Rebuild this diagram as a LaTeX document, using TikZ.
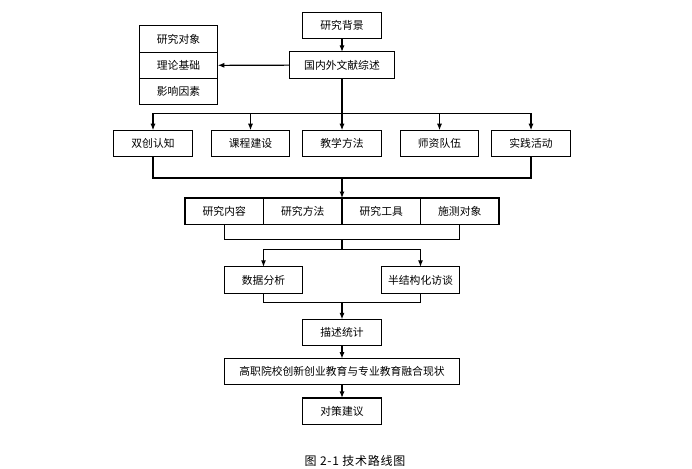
\documentclass[tikz,border=0pt]{standalone}
\usepackage{fontspec}
\setmainfont{Noto Sans CJK SC}
\usetikzlibrary{positioning, arrows, arrows.meta}
\tikzset{>={Latex[length=6.5pt, width=5pt]}}
\tikzset{
    box/.style={draw, line width=1.1pt, minimum width=78.5pt, minimum height=26.3pt, inner sep=0pt, outer sep=0pt, font=\fontsize{10.8}{12}\selectfont},
    link/.style={line width=1.1pt}
}

\begin{document}
\begin{tikzpicture}[x=1pt, y=1pt]
    \useasboundingbox (0,0) rectangle (692,468);

    \node[box] (background) at (342,442.2) {研究背景};
    \node[box, minimum width=104.5pt, below = 13pt of background] (review) {国内外文献综述};
    \node[box] (basis) at (178.5,402.6) {理论基础};
    \node[box, above = 0pt of basis] (subject) {研究对象};
    \node[box, below = 0pt of basis] (factor) {影响因素};

    \node[box, below = 52pt of review] (teaching) {教学方法};
    \node[box, left = 13pt of teaching] (course) {课程建设};
    \node[box, left = 19pt of course] (cognition) {双创认知};
    \node[box, right = 19pt of teaching] (staff) {师资队伍};
    \node[box, right = 13pt of staff] (practice) {实践活动};

    \node[box, below left = 41.5pt and 0pt of teaching.south] (method) {研究方法};
    \node[box, below right = 41.5pt and 0pt of teaching.south] (tool) {研究工具};
    \node[box, left = 0pt of method] (content) {研究内容};
    \node[box, right = 0pt of tool] (object) {施测对象};

    \node[box, below right = 42.5pt and 0pt of content.south] (analysis) {数据分析};
    \node[box, below left = 42.5pt and 0pt of object.south] (interview) {半结构化访谈};

    \node[box, below = 95pt of method.south east] (statistics) {描述统计};
    \node[box, minimum width=235pt, below = 13pt of statistics] (status) {高职院校创新创业教育与专业教育融合现状};
    \node[box, below = 13pt of status] (advice) {对策建议};

    \node[font=\fontsize{12}{14}\selectfont\addfontfeature{LetterSpace=6}] (caption) at (355,7) {图 2-1 技术路线图};

    \coordinate[below = 35pt of review.south] (bus1);
    \coordinate[below = 21.5pt of teaching.south] (bus2);
    \coordinate[below = 15.5pt of method.south east] (bus3);
    \coordinate[below = 25.5pt of method.south east] (fork);
    \coordinate[above = 16.5pt of statistics.north] (join);

    \draw[link, ->] (background) -- (review);
    \draw[link, ->] (review) -- (basis);
    \draw[link, ->] (review) -- (teaching);
    \draw[link, ->] (bus1) -| (cognition);
    \draw[link, ->] (bus1) -| (course);
    \draw[link, ->] (bus1) -| (staff);
    \draw[link, ->] (bus1) -| (practice);

    \draw[link]
    (cognition) |- (bus2)
    (practice) |- (bus2)
    ;
    \draw[link, ->] (bus2) -- (method.north east);

    \draw[link]
    (content) |- (bus3)
    (object) |- (bus3)
    (bus3) -- (fork)
    ;
    \draw[link, ->] (fork) -| (analysis);
    \draw[link, ->] (fork) -| (interview);

    \draw[link]
    (analysis) |- (join)
    (interview) |- (join)
    ;
    \draw[link, ->] (join) -- (statistics);
    \draw[link, ->] (statistics) -- (status);
    \draw[link, ->] (status) -- (advice);
\end{tikzpicture}
\end{document}
